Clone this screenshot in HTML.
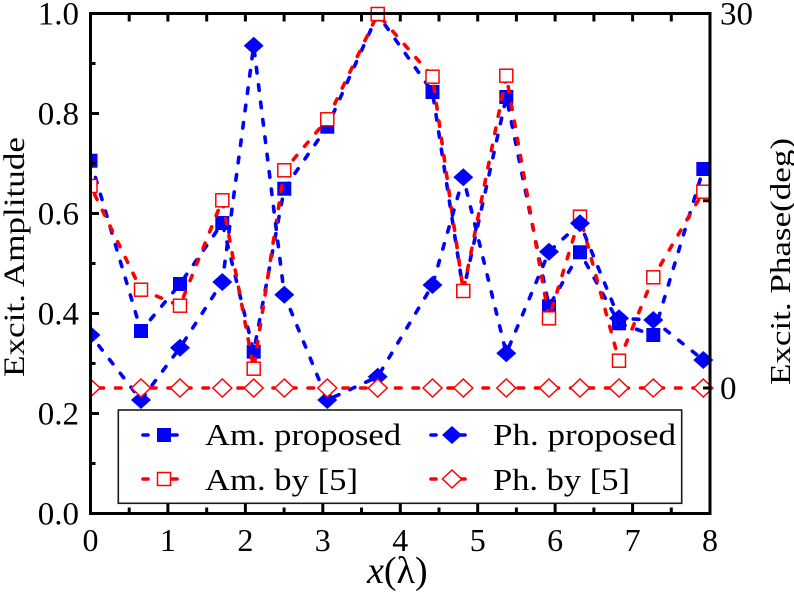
<!DOCTYPE html>
<html>
<head>
<meta charset="utf-8">
<style>
html,body{margin:0;padding:0;background:#fff;}
svg{display:block;font-family:"Liberation Serif","Times New Roman",Times,serif;}
svg text{font-family:"Liberation Serif","Times New Roman",Times,serif;fill:#000;}
</style>
</head>
<body>
<svg width="794" height="592" viewBox="0 0 794 592" xmlns="http://www.w3.org/2000/svg" font-family="Liberation Serif, Times New Roman, Times, serif">
<defs>
<clipPath id="pc"><rect x="90.5" y="0" width="625" height="592"/></clipPath>
</defs>
<rect x="0" y="0" width="794" height="592" fill="#fff"/>

<g clip-path="url(#pc)">
<!-- Am. proposed -->
<polyline fill="none" stroke="#0000ff" stroke-width="3.6" stroke-linecap="round" stroke-dasharray="5.5 12"
 points="90.5,160.7 141,331 180,284 222.3,223 253.7,351.7 284.3,188.7 327.3,126.7 377.7,14.5 432.5,92 463.3,291 506.3,97 549,306.3 580,252.3 619,323.3 653.3,335 703.3,169"/>
<g fill="#0000ff">
<rect x="83.5" y="153.7" width="14" height="14"/>
<rect x="134" y="324" width="14" height="14"/>
<rect x="173" y="277" width="14" height="14"/>
<rect x="215.3" y="216" width="14" height="14"/>
<rect x="246.7" y="344.7" width="14" height="14"/>
<rect x="277.3" y="181.7" width="14" height="14"/>
<rect x="320.3" y="119.7" width="14" height="14"/>
<rect x="370.7" y="7.5" width="14" height="14"/>
<rect x="425.5" y="85" width="14" height="14"/>
<rect x="456.3" y="284" width="14" height="14"/>
<rect x="499.3" y="90" width="14" height="14"/>
<rect x="542" y="299.3" width="14" height="14"/>
<rect x="573" y="245.3" width="14" height="14"/>
<rect x="612" y="316.3" width="14" height="14"/>
<rect x="646.3" y="328" width="14" height="14"/>
<rect x="696.3" y="162" width="14" height="14"/>
</g>

<!-- Am. by [5] -->
<polyline fill="none" stroke="#ff0000" stroke-width="3.6" stroke-linecap="round" stroke-dasharray="5.5 12" stroke-dashoffset="8"
 points="90.5,186 141,289.7 180,305.7 222.3,200.3 253.7,368.7 284.3,170.3 327.3,119.3 377.7,14 432.5,76.7 463.3,291 506.3,75.7 549,318.3 580,216.7 619,360.7 653.3,277.3 703.3,191.7"/>
<g fill="#fff" stroke="#ff0000" stroke-width="1.5">
<rect x="84" y="179.5" width="13" height="13"/>
<rect x="134.5" y="283.2" width="13" height="13"/>
<rect x="173.5" y="299.2" width="13" height="13"/>
<rect x="215.8" y="193.8" width="13" height="13"/>
<rect x="247.2" y="362.2" width="13" height="13"/>
<rect x="277.8" y="163.8" width="13" height="13"/>
<rect x="320.8" y="112.8" width="13" height="13"/>
<rect x="371.2" y="7.5" width="13" height="13"/>
<rect x="426" y="70.2" width="13" height="13"/>
<rect x="456.8" y="284.5" width="13" height="13"/>
<rect x="499.8" y="69.2" width="13" height="13"/>
<rect x="542.5" y="311.8" width="13" height="13"/>
<rect x="573.5" y="210.2" width="13" height="13"/>
<rect x="612.5" y="354.2" width="13" height="13"/>
<rect x="646.8" y="270.8" width="13" height="13"/>
<rect x="696.8" y="185.2" width="13" height="13"/>
</g>

<!-- Ph. proposed -->
<polyline fill="none" stroke="#0000ff" stroke-width="3.6" stroke-linecap="round" stroke-dasharray="5.5 12" stroke-dashoffset="4"
 points="90.5,335 141,400 180,347.7 222.3,282 253.7,45.7 284.3,294.7 327.3,400 377.7,376.7 432.5,285 463.3,177.3 506.3,353.3 549,251.7 580,223.3 619,318.3 653.3,320 703.3,360"/>
<g fill="#0000ff">
<polygon points="80.5,335 90.5,326 100.5,335 90.5,344"/>
<polygon points="131,400 141,391 151,400 141,409"/>
<polygon points="170,347.7 180,338.7 190,347.7 180,356.7"/>
<polygon points="212.3,282 222.3,273 232.3,282 222.3,291"/>
<polygon points="243.7,45.7 253.7,36.7 263.7,45.7 253.7,54.7"/>
<polygon points="274.3,294.7 284.3,285.7 294.3,294.7 284.3,303.7"/>
<polygon points="317.3,400 327.3,391 337.3,400 327.3,409"/>
<polygon points="367.7,376.7 377.7,367.7 387.7,376.7 377.7,385.7"/>
<polygon points="422.5,285 432.5,276 442.5,285 432.5,294"/>
<polygon points="453.3,177.3 463.3,168.3 473.3,177.3 463.3,186.3"/>
<polygon points="496.3,353.3 506.3,344.3 516.3,353.3 506.3,362.3"/>
<polygon points="539,251.7 549,242.7 559,251.7 549,260.7"/>
<polygon points="570,223.3 580,214.3 590,223.3 580,232.3"/>
<polygon points="609,318.3 619,309.3 629,318.3 619,327.3"/>
<polygon points="643.3,320 653.3,311 663.3,320 653.3,329"/>
<polygon points="693.3,360 703.3,351 713.3,360 703.3,369"/>
</g>

<!-- Ph. by [5] -->
<polyline fill="none" stroke="#ff0000" stroke-width="3.6" stroke-linecap="round" stroke-dasharray="5.5 12" stroke-dashoffset="10"
 points="90.5,388 703.3,388"/>
<g fill="#fff" stroke="#ff0000" stroke-width="1.5">
<polygon points="81,388 90.5,379 100,388 90.5,397"/>
<polygon points="131.5,388 141,379 150.5,388 141,397"/>
<polygon points="170.5,388 180,379 189.5,388 180,397"/>
<polygon points="212.8,388 222.3,379 231.8,388 222.3,397"/>
<polygon points="244.2,388 253.7,379 263.2,388 253.7,397"/>
<polygon points="274.8,388 284.3,379 293.8,388 284.3,397"/>
<polygon points="317.8,388 327.3,379 336.8,388 327.3,397"/>
<polygon points="368.2,388 377.7,379 387.2,388 377.7,397"/>
<polygon points="423,388 432.5,379 442,388 432.5,397"/>
<polygon points="453.8,388 463.3,379 472.8,388 463.3,397"/>
<polygon points="496.8,388 506.3,379 515.8,388 506.3,397"/>
<polygon points="539.5,388 549,379 558.5,388 549,397"/>
<polygon points="570.5,388 580,379 589.5,388 580,397"/>
<polygon points="609.5,388 619,379 628.5,388 619,397"/>
<polygon points="643.8,388 653.3,379 662.8,388 653.3,397"/>
<polygon points="693.8,388 703.3,379 712.8,388 703.3,397"/>
</g>
</g>

<!-- Legend -->
<rect x="118.3" y="410" width="563.4" height="93.3" fill="#fff" stroke="#1a1a1a" stroke-width="1.6"/>
<g stroke-width="3.6" stroke-linecap="round">
<line x1="143" y1="435" x2="148" y2="435" stroke="#0000ff"/>
<line x1="172" y1="435" x2="177" y2="435" stroke="#0000ff"/>
<line x1="143" y1="479" x2="148" y2="479" stroke="#ff0000"/>
<line x1="172" y1="479" x2="177" y2="479" stroke="#ff0000"/>
<line x1="431" y1="435" x2="436" y2="435" stroke="#0000ff"/>
<line x1="460" y1="435" x2="465" y2="435" stroke="#0000ff"/>
<line x1="431" y1="479" x2="436" y2="479" stroke="#ff0000"/>
<line x1="460" y1="479" x2="465" y2="479" stroke="#ff0000"/>
</g>
<rect x="157" y="428" width="14" height="14" fill="#0000ff"/>
<rect x="157.5" y="472.5" width="13" height="13" fill="#fff" stroke="#ff0000" stroke-width="1.5"/>
<polygon points="442,435 452,426 462,435 452,444" fill="#0000ff"/>
<polygon points="442.5,479 452,470 461.5,479 452,488" fill="#fff" stroke="#ff0000" stroke-width="1.5"/>
<text x="205" y="445" font-size="31" font-family="Liberation Serif, Times New Roman, serif" textLength="196" lengthAdjust="spacingAndGlyphs">Am. proposed</text>
<text x="205" y="490" font-size="31" font-family="Liberation Serif, Times New Roman, serif" textLength="153" lengthAdjust="spacingAndGlyphs">Am. by [5]</text>
<text x="493" y="445" font-size="31" font-family="Liberation Serif, Times New Roman, serif" textLength="183" lengthAdjust="spacingAndGlyphs">Ph. proposed</text>
<text x="493" y="490" font-size="31" font-family="Liberation Serif, Times New Roman, serif" textLength="137" lengthAdjust="spacingAndGlyphs">Ph. by [5]</text>

<!-- Axes frame -->
<rect x="90.5" y="13.5" width="619.5" height="500" fill="none" stroke="#000" stroke-width="3"/>

<g stroke="#000" stroke-width="3">
<line x1="90.5" y1="513.5" x2="99" y2="513.5"/>
<line x1="90.5" y1="463.5" x2="95.5" y2="463.5"/>
<line x1="90.5" y1="413.5" x2="99" y2="413.5"/>
<line x1="90.5" y1="363.5" x2="95.5" y2="363.5"/>
<line x1="90.5" y1="313.5" x2="99" y2="313.5"/>
<line x1="90.5" y1="263.5" x2="95.5" y2="263.5"/>
<line x1="90.5" y1="213.5" x2="99" y2="213.5"/>
<line x1="90.5" y1="163.5" x2="95.5" y2="163.5"/>
<line x1="90.5" y1="113.5" x2="99" y2="113.5"/>
<line x1="90.5" y1="63.5" x2="95.5" y2="63.5"/>
<line x1="710" y1="200.75" x2="703" y2="200.75"/>
<line x1="710" y1="388" x2="703" y2="388"/>
<line x1="129.2" y1="513.5" x2="129.2" y2="507.5"/>
<line x1="167.9" y1="513.5" x2="167.9" y2="503.5"/>
<line x1="206.7" y1="513.5" x2="206.7" y2="507.5"/>
<line x1="245.4" y1="513.5" x2="245.4" y2="503.5"/>
<line x1="284.1" y1="513.5" x2="284.1" y2="507.5"/>
<line x1="322.8" y1="513.5" x2="322.8" y2="503.5"/>
<line x1="361.5" y1="513.5" x2="361.5" y2="507.5"/>
<line x1="400.3" y1="513.5" x2="400.3" y2="503.5"/>
<line x1="439" y1="513.5" x2="439" y2="507.5"/>
<line x1="477.7" y1="513.5" x2="477.7" y2="503.5"/>
<line x1="516.4" y1="513.5" x2="516.4" y2="507.5"/>
<line x1="555.1" y1="513.5" x2="555.1" y2="503.5"/>
<line x1="593.9" y1="513.5" x2="593.9" y2="507.5"/>
<line x1="632.6" y1="513.5" x2="632.6" y2="503.5"/>
<line x1="671.3" y1="513.5" x2="671.3" y2="507.5"/>
<line x1="129.2" y1="13.5" x2="129.2" y2="21.5"/>
<line x1="167.9" y1="13.5" x2="167.9" y2="21.5"/>
<line x1="206.7" y1="13.5" x2="206.7" y2="21.5"/>
<line x1="245.4" y1="13.5" x2="245.4" y2="21.5"/>
<line x1="284.1" y1="13.5" x2="284.1" y2="21.5"/>
<line x1="322.8" y1="13.5" x2="322.8" y2="21.5"/>
<line x1="361.5" y1="13.5" x2="361.5" y2="21.5"/>
<line x1="400.3" y1="13.5" x2="400.3" y2="21.5"/>
<line x1="439" y1="13.5" x2="439" y2="21.5"/>
<line x1="477.7" y1="13.5" x2="477.7" y2="21.5"/>
<line x1="516.4" y1="13.5" x2="516.4" y2="21.5"/>
<line x1="555.1" y1="13.5" x2="555.1" y2="21.5"/>
<line x1="593.9" y1="13.5" x2="593.9" y2="21.5"/>
<line x1="632.6" y1="13.5" x2="632.6" y2="21.5"/>
<line x1="671.3" y1="13.5" x2="671.3" y2="21.5"/>
</g>

<g font-size="33" text-anchor="end" font-family="Liberation Serif, Times New Roman, serif">
<text x="79" y="524.5">0.0</text>
<text x="79" y="424.5">0.2</text>
<text x="79" y="324.5">0.4</text>
<text x="79" y="224.5">0.6</text>
<text x="79" y="124.5">0.8</text>
<text x="79" y="24.5">1.0</text>
</g>
<g font-size="33" font-family="Liberation Serif, Times New Roman, serif">
<text x="720" y="24.5">30</text>
<text x="720" y="399">0</text>
</g>
<g font-size="32" text-anchor="middle" font-family="Liberation Serif, Times New Roman, serif">
<text x="90.5" y="551">0</text>
<text x="167.9" y="551">1</text>
<text x="245.4" y="551">2</text>
<text x="322.8" y="551">3</text>
<text x="400.3" y="551">4</text>
<text x="477.7" y="551">5</text>
<text x="555.1" y="551">6</text>
<text x="632.6" y="551">7</text>
<text x="710" y="551">8</text>
</g>

<text x="367" y="583" font-size="38" font-family="Liberation Serif, Times New Roman, serif"><tspan font-style="italic">x</tspan>(λ)</text>
<text transform="translate(24,257) rotate(-90)" font-size="30" font-family="Liberation Serif, Times New Roman, serif" text-anchor="middle" textLength="240" lengthAdjust="spacingAndGlyphs">Excit. Amplitude</text>
<text transform="translate(790,261.5) rotate(-90)" font-size="28" font-family="Liberation Serif, Times New Roman, serif" text-anchor="middle" textLength="247" lengthAdjust="spacingAndGlyphs">Excit. Phase(deg)</text>
</svg>
</body>
</html>
